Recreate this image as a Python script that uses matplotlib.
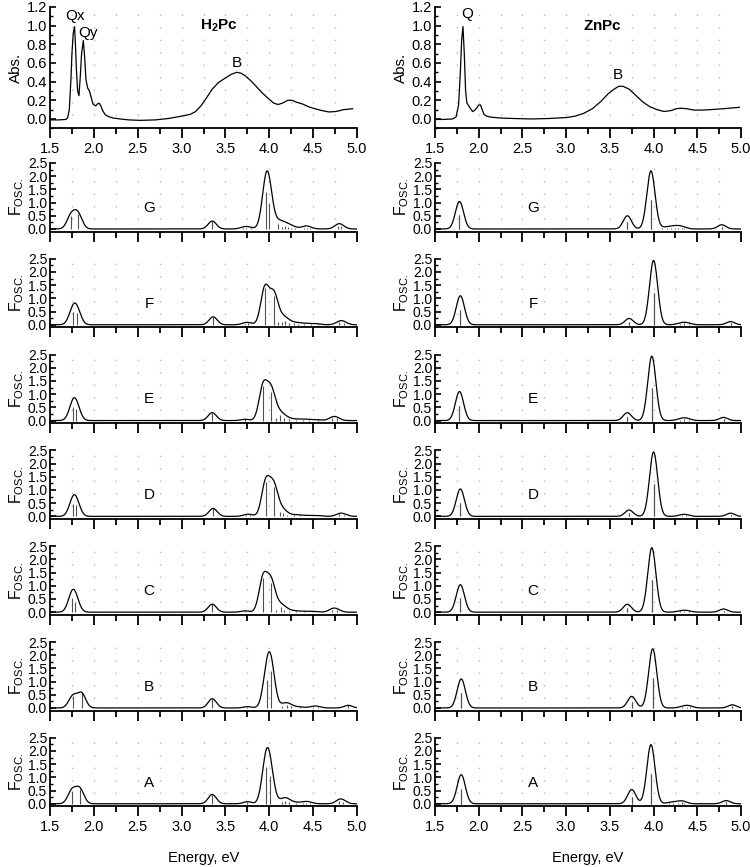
import numpy as np
import matplotlib
matplotlib.use("Agg")
import matplotlib.pyplot as plt
from matplotlib.ticker import MultipleLocator

plt.rcParams['font.family'] = ['Liberation Sans', 'DejaVu Sans']
plt.rcParams['mathtext.fontset'] = 'custom'
plt.rcParams['mathtext.rm'] = 'Liberation Sans'
plt.rcParams['mathtext.bf'] = 'Liberation Sans:bold'
plt.rcParams['mathtext.it'] = 'Liberation Sans'

# ---------------- data ----------------
# experimental absorption spectra (energy eV, absorbance)
H2PC_ABS_E = [1.50, 1.60, 1.68, 1.70, 1.72, 1.74, 1.75, 1.765, 1.78, 1.79, 1.80, 1.815, 1.83, 1.845,
              1.86, 1.88, 1.895, 1.91, 1.93, 1.95, 1.97, 1.99, 2.02, 2.04, 2.06, 2.08, 2.10, 2.13,
              2.17, 2.22, 2.30, 2.40, 2.53, 2.70, 2.85, 3.00, 3.10, 3.16, 3.22, 3.28, 3.35, 3.42,
              3.50, 3.57, 3.63, 3.68, 3.73, 3.80, 3.87, 3.93, 4.00, 4.05, 4.10, 4.15, 4.21, 4.26,
              4.31, 4.38, 4.45, 4.52, 4.60, 4.68, 4.76, 4.85, 4.95]
H2PC_ABS_A = [-0.01, -0.01, -0.005, 0.01, 0.10, 0.45, 0.70, 0.92, 0.99, 0.80, 0.55, 0.30, 0.25, 0.45,
              0.70, 0.84, 0.66, 0.42, 0.33, 0.30, 0.23, 0.16, 0.14, 0.16, 0.17, 0.14, 0.09, 0.045,
              0.025, 0.01, 0.0, -0.01, -0.015, -0.01, 0.005, 0.03, 0.05, 0.08, 0.14, 0.22, 0.32, 0.39,
              0.44, 0.48, 0.50, 0.49, 0.46, 0.40, 0.33, 0.27, 0.21, 0.17, 0.155, 0.17, 0.20, 0.20,
              0.18, 0.16, 0.13, 0.11, 0.09, 0.075, 0.08, 0.10, 0.11]

ZNPC_ABS_E = [1.50, 1.60, 1.70, 1.74, 1.77, 1.79, 1.805, 1.82, 1.835, 1.85, 1.865, 1.88, 1.90, 1.93,
              1.95, 1.98, 2.00, 2.02, 2.04, 2.06, 2.09, 2.14, 2.25, 2.40, 2.60, 2.80, 3.00, 3.10,
              3.20, 3.30, 3.40, 3.48, 3.55, 3.60, 3.65, 3.72, 3.80, 3.88, 3.96, 4.04, 4.12, 4.20,
              4.26, 4.31, 4.38, 4.46, 4.55, 4.65, 4.80, 4.98]
ZNPC_ABS_A = [-0.005, -0.005, 0.0, 0.02, 0.15, 0.50, 0.85, 0.99, 0.70, 0.30, 0.17, 0.15, 0.12, 0.08,
              0.09, 0.12, 0.15, 0.15, 0.10, 0.05, 0.03, 0.02, 0.01, 0.005, 0.0, 0.005, 0.015, 0.03,
              0.06, 0.11, 0.19, 0.27, 0.32, 0.35, 0.35, 0.32, 0.25, 0.18, 0.13, 0.10, 0.08, 0.09,
              0.11, 0.115, 0.11, 0.095, 0.095, 0.10, 0.11, 0.125]

# calculated stick spectra (transition energy eV, oscillator strength) -- H2Pc
H2PC_G_E = [1.74, 1.82, 3.35, 3.70, 3.74, 3.79, 3.96, 4.00, 4.10, 4.14, 4.18, 4.21, 4.25, 4.29, 4.40, 4.43, 4.46, 4.78, 4.82]
H2PC_G_F = [0.50, 0.55, 0.30, 0.04, 0.05, 0.03, 1.40, 1.00, 0.20, 0.08, 0.10, 0.06, 0.05, 0.04, 0.05, 0.05, 0.03, 0.12, 0.10]
H2PC_F_E = [1.76, 1.81, 3.36, 3.72, 3.76, 3.95, 4.05, 4.10, 4.14, 4.18, 4.22, 4.28, 4.33, 4.40, 4.48, 4.55, 4.80, 4.85]
H2PC_F_F = [0.50, 0.45, 0.30, 0.04, 0.06, 1.40, 1.10, 0.10, 0.12, 0.15, 0.06, 0.05, 0.04, 0.04, 0.03, 0.03, 0.10, 0.08]
H2PC_E_E = [1.76, 1.80, 3.35, 3.72, 3.93, 4.02, 4.08, 4.12, 4.17, 4.22, 4.30, 4.38, 4.45, 4.55, 4.72, 4.77]
H2PC_E_F = [0.50, 0.45, 0.30, 0.05, 1.30, 1.10, 0.10, 0.20, 0.08, 0.06, 0.04, 0.04, 0.03, 0.03, 0.10, 0.08]
H2PC_D_E = [1.76, 1.80, 3.36, 3.74, 3.78, 3.96, 4.05, 4.12, 4.16, 4.20, 4.28, 4.35, 4.45, 4.55, 4.80, 4.85]
H2PC_D_F = [0.48, 0.42, 0.30, 0.05, 0.04, 1.30, 1.10, 0.15, 0.12, 0.06, 0.04, 0.04, 0.03, 0.03, 0.08, 0.06]
H2PC_C_E = [1.75, 1.79, 3.35, 3.72, 3.93, 4.02, 4.08, 4.13, 4.17, 4.22, 4.30, 4.40, 4.50, 4.72, 4.77]
H2PC_C_F = [0.55, 0.40, 0.30, 0.05, 1.30, 1.10, 0.10, 0.18, 0.08, 0.05, 0.04, 0.03, 0.03, 0.10, 0.08]
H2PC_B_E = [1.76, 1.86, 3.35, 3.75, 3.97, 4.02, 4.15, 4.20, 4.25, 4.35, 4.50, 4.55, 4.90]
H2PC_B_F = [0.45, 0.55, 0.35, 0.05, 1.05, 1.40, 0.08, 0.12, 0.06, 0.04, 0.05, 0.04, 0.10]
H2PC_A_E = [1.75, 1.84, 3.35, 3.75, 3.96, 4.01, 4.14, 4.18, 4.22, 4.30, 4.38, 4.42, 4.46, 4.80, 4.84]
H2PC_A_F = [0.50, 0.55, 0.35, 0.08, 1.40, 1.05, 0.08, 0.12, 0.08, 0.04, 0.03, 0.04, 0.04, 0.12, 0.08]

# calculated stick spectra -- ZnPc (degenerate pairs listed twice)
ZNPC_G_E = [1.78, 1.78, 3.70, 3.70, 3.97, 3.97, 4.10, 4.15, 4.20, 4.24, 4.28, 4.32, 4.35, 4.78, 4.78]
ZNPC_G_F = [0.52, 0.52, 0.25, 0.25, 1.10, 1.10, 0.03, 0.04, 0.04, 0.05, 0.05, 0.04, 0.03, 0.08, 0.08]
ZNPC_F_E = [1.79, 1.79, 3.72, 3.72, 4.00, 4.00, 4.30, 4.35, 4.40, 4.88, 4.88]
ZNPC_F_F = [0.55, 0.55, 0.12, 0.12, 1.22, 1.22, 0.04, 0.05, 0.04, 0.06, 0.06]
ZNPC_E_E = [1.78, 1.78, 3.70, 3.70, 3.98, 3.98, 4.30, 4.35, 4.40, 4.80, 4.80]
ZNPC_E_F = [0.55, 0.55, 0.15, 0.15, 1.22, 1.22, 0.04, 0.06, 0.04, 0.06, 0.06]
ZNPC_D_E = [1.79, 1.79, 3.72, 3.72, 4.00, 4.00, 4.32, 4.37, 4.88, 4.88]
ZNPC_D_F = [0.52, 0.52, 0.12, 0.12, 1.22, 1.22, 0.04, 0.05, 0.06, 0.06]
ZNPC_C_E = [1.79, 1.79, 3.70, 3.70, 3.98, 3.98, 4.30, 4.35, 4.40, 4.80, 4.80]
ZNPC_C_F = [0.52, 0.52, 0.15, 0.15, 1.22, 1.22, 0.03, 0.04, 0.03, 0.06, 0.06]
ZNPC_B_E = [1.80, 1.80, 3.75, 3.75, 3.99, 3.99, 4.33, 4.38, 4.42, 4.90, 4.90]
ZNPC_B_F = [0.55, 0.55, 0.22, 0.22, 1.12, 1.12, 0.04, 0.05, 0.04, 0.06, 0.06]
ZNPC_A_E = [1.80, 1.80, 3.75, 3.75, 3.97, 3.97, 4.18, 4.22, 4.28, 4.32, 4.35, 4.83, 4.83]
ZNPC_A_F = [0.55, 0.55, 0.27, 0.27, 1.12, 1.12, 0.03, 0.03, 0.04, 0.05, 0.04, 0.06, 0.06]

PANEL_LABELS = ["G", "F", "E", "D", "C", "B", "A"]
H2PC_STICKS = [(H2PC_G_E, H2PC_G_F), (H2PC_F_E, H2PC_F_F), (H2PC_E_E, H2PC_E_F), (H2PC_D_E, H2PC_D_F),
               (H2PC_C_E, H2PC_C_F), (H2PC_B_E, H2PC_B_F), (H2PC_A_E, H2PC_A_F)]
ZNPC_STICKS = [(ZNPC_G_E, ZNPC_G_F), (ZNPC_F_E, ZNPC_F_F), (ZNPC_E_E, ZNPC_E_F), (ZNPC_D_E, ZNPC_D_F),
               (ZNPC_C_E, ZNPC_C_F), (ZNPC_B_E, ZNPC_B_F), (ZNPC_A_E, ZNPC_A_F)]

FWHM = 0.11  # Gaussian broadening used for the envelopes (eV)

# ---------------- figure ----------------
W, H = 750, 867
fig = plt.figure(figsize=(W / 100, H / 100), dpi=100)

COL_X = [(50, 357), (435, 741)]
TOP_PANEL = (7, 128.3)
F_TOP0, F_BOT0, F_STEP = 163.0, 231.6, 95.8


def make_ax(x0, x1, y0, y1):
    return fig.add_axes([x0 / W, 1 - y1 / H, (x1 - x0) / W, (y1 - y0) / H])


def style(ax, labels_x):
    ax.set_xlim(1.5, 5.0)
    for s in ('top', 'right'):
        ax.spines[s].set_visible(False)
    for s in ('left', 'bottom'):
        ax.spines[s].set_linewidth(1.3)
    ax.xaxis.set_major_locator(MultipleLocator(0.5))
    ax.xaxis.set_minor_locator(MultipleLocator(0.25))
    ax.tick_params(axis='x', which='major', direction='out', length=7, width=1.3,
                   labelsize=10.5, pad=3, labelbottom=labels_x)
    ax.tick_params(axis='x', which='minor', direction='out', length=4, width=1.3)
    ax.tick_params(axis='y', which='major', direction='in', length=4, width=1.2,
                   labelsize=10, pad=2)
    ax.tick_params(axis='y', which='minor', direction='in', length=2.5, width=1.0)
    for gx in np.arange(1.75, 4.9, 0.25):
        ax.axvline(gx, color='#b8b8b8', lw=1.0, ls=(0, (1, 8)), zorder=0)
    ax.patch.set_alpha(0)


def envelope(es, fs, grid):
    es = np.asarray(es)[:, None]
    fs = np.asarray(fs)[:, None]
    return (fs * np.exp(-4 * np.log(2) * (grid[None, :] - es) ** 2 / FWHM ** 2)).sum(axis=0)


grid = np.linspace(1.5, 5.0, 1400)

for ci, (name, abs_e, abs_a, sticks, qlabels, blabel, fosc_lab) in enumerate([
        (r'$\mathbf{H_2Pc}$', H2PC_ABS_E, H2PC_ABS_A, H2PC_STICKS,
         [("Qx", 1.79, 1.1), ("Qy", 1.93, 0.92)], ("B", 3.63, 0.6), 2.63),
        (r'$\mathbf{ZnPc}$', ZNPC_ABS_E, ZNPC_ABS_A, ZNPC_STICKS,
         [("Q", 1.87, 1.13)], ("B", 3.59, 0.47), 2.62)]):
    x0, x1 = COL_X[ci]
    ax = make_ax(x0, x1, *TOP_PANEL)
    style(ax, True)
    ax.set_ylim(-0.1, 1.2)
    ax.yaxis.set_minor_locator(MultipleLocator(0.1))
    ax.set_yticks(np.arange(0, 1.21, 0.2))
    ax.set_yticklabels([f"{v:.1f}" for v in np.arange(0, 1.21, 0.2)])
    ax.tick_params(axis='y', which='major', labelsize=10.5)
    ax.plot(abs_e, abs_a, color='black', lw=0.9)
    ax.set_ylabel("Abs.", fontsize=11, labelpad=3)
    ax.text(3.42, 1.0, name, fontsize=11, ha='center', va='center')
    for t, xx, yy in qlabels:
        ax.text(xx, yy, t, fontsize=11, ha='center', va='center')
    ax.text(blabel[1], blabel[2], blabel[0], fontsize=11, ha='center', va='center')

    for k, (es, fs) in enumerate(sticks):
        ytop = F_TOP0 + k * F_STEP
        ybot = F_BOT0 + k * F_STEP
        ax = make_ax(x0, x1, ytop, ybot)
        style(ax, k == len(sticks) - 1)
        ax.set_ylim(-0.1, 2.5)
        ax.set_yticks(np.arange(0, 2.51, 0.5))
        ax.set_yticklabels([f"{v:.1f}" for v in np.arange(0, 2.51, 0.5)])
        ax.yaxis.set_minor_locator(MultipleLocator(0.25))
        ax.vlines(es, 0, fs, color='#505050', lw=0.8)
        ax.plot(grid, envelope(es, fs, grid), color='black', lw=0.9)
        ax.set_ylabel(r'F$_{\mathrm{OSC.}}$', fontsize=11.5, labelpad=1)
        ax.text(fosc_lab, 0.8, PANEL_LABELS[k], fontsize=11, ha='center', va='center')

    fig.text(((x0 + x1) / 2) / W, 1 - 858 / H, "Energy, eV", fontsize=10.5, ha='center', va='center')

fig.savefig("out.png", dpi=100)
